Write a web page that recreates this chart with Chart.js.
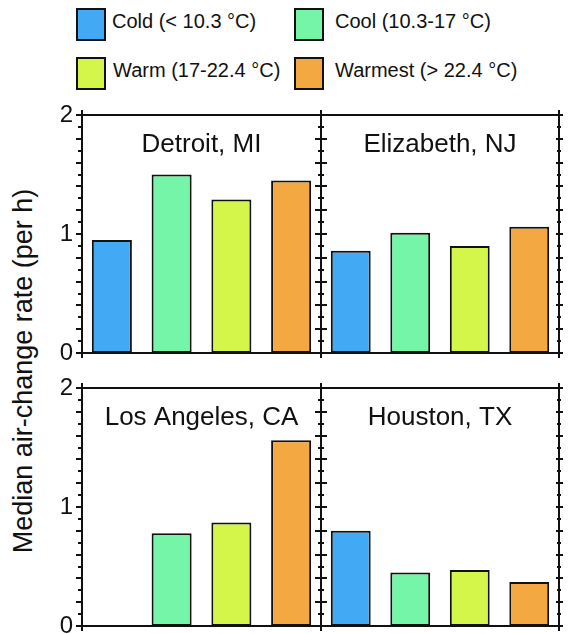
<!DOCTYPE html>
<html>
<head>
<meta charset="utf-8">
<script src="https://cdn.jsdelivr.net/npm/chart.js@4"></script>
<style>
  html, body { margin: 0; padding: 0; }
  body { width: 579px; height: 634px; overflow: hidden; background: #fff; position: relative;
         font-family: "Liberation Sans", Arial, sans-serif; color: #111; }
  .lg-box { position: absolute; width: 30px; height: 33px; box-sizing: border-box; border: 2px solid #111; }
  .lg-text { position: absolute; font-size: 20px; line-height: 24px; white-space: nowrap; }
  #ylabel { position: absolute; width: 420px; height: 30px; line-height: 30px; font-size: 27px;
            text-align: center; white-space: nowrap; transform: rotate(-90deg); }
  canvas { position: absolute; }
</style>
</head>
<body>
<div id="legend"></div>
<div id="ylabel">Median air-change rate (per h)</div>
<script>
// Temperature bins (one bar colour each)
const categories = ['Cold (< 10.3 °C)', 'Cool (10.3-17 °C)', 'Warm (17-22.4 °C)', 'Warmest (> 22.4 °C)'];
const binColors = ['#42AAF5', '#74F5A8', '#D4F54A', '#F4A842'];

// Cities, one panel each
const cities = ['Detroit, MI', 'Elizabeth, NJ', 'Los Angeles, CA', 'Houston, TX'];

// Median air-change rate (per h) by temperature bin
const detroit    = [0.95, 1.50, 1.29, 1.45];
const elizabeth  = [0.86, 1.01, 0.90, 1.06];
const losAngeles = [null, 0.78, 0.87, 1.56];
const houston    = [0.80, 0.45, 0.47, 0.37];

// y-axis range and labelled ticks
const yMin = 0, yMax = 2, yLabelStep = 1;

// ---- legend (2 x 2) ----
const legendSlots = [
  { box: [76, 8],  text: [112, 9]  },
  { box: [294, 8], text: [335, 9]  },
  { box: [76, 57], text: [113, 58] },
  { box: [294, 57], text: [335, 58] }
];
const legendEl = document.getElementById('legend');
categories.forEach((c, i) => {
  const s = legendSlots[i];
  const b = document.createElement('div');
  b.className = 'lg-box';
  b.style.left = s.box[0] + 'px'; b.style.top = s.box[1] + 'px';
  b.style.background = binColors[i];
  legendEl.appendChild(b);
  const t = document.createElement('div');
  t.className = 'lg-text';
  t.style.left = s.text[0] + 'px'; t.style.top = s.text[1] + 'px';
  t.textContent = c;
  legendEl.appendChild(t);
});

// shared y-axis title
const yl = document.getElementById('ylabel');
yl.style.left = (22.6 - 210) + 'px';
yl.style.top = (371 - 15) + 'px';

// ---- panels ----
const AREA_H = 238;
const PAD_V = 26, PAD_R = 10, AXIS_W = 52, PAD_L = 10;
const panels = [
  { name: cities[0], values: detroit,    left: 82,  top: 115, w: 239, col: 0 },
  { name: cities[1], values: elizabeth,  left: 321, top: 115, w: 238, col: 1 },
  { name: cities[2], values: losAngeles, left: 82,  top: 388, w: 239, col: 0 },
  { name: cities[3], values: houston,    left: 321, top: 388, w: 238, col: 1 }
];

// frame, tick marks and city name for each panel
const panelFrame = {
  id: 'panelFrame',
  afterDatasetsDraw(chart, args, opts) {
    const { ctx, chartArea: a } = chart;
    const y = chart.scales.y;
    ctx.save();
    ctx.strokeStyle = '#111';
    ctx.lineWidth = 2;
    ctx.lineCap = 'butt';
    ctx.beginPath();
    // top & bottom
    ctx.moveTo(a.left - 1, a.top); ctx.lineTo(a.right + 1, a.top);
    ctx.moveTo(a.left - 1, a.bottom); ctx.lineTo(a.right + 1, a.bottom);
    // sides, running a little past the box
    ctx.moveTo(a.left, a.top - 5); ctx.lineTo(a.left, a.bottom + 5);
    ctx.moveTo(a.right, a.top - 5); ctx.lineTo(a.right, a.bottom + 5);
    ctx.stroke();

    ctx.beginPath();
    for (let i = 0; i <= 20; i++) {
      const py = Math.round(y.getPixelForValue(i / 10));
      const major = i % 2 === 0;
      if (opts.col === 0) {
        // outer left axis
        ctx.moveTo(a.left - (major ? 6 : 4), py); ctx.lineTo(a.left + 1, py);
        // shared divider
        ctx.moveTo(a.right - (major ? 6 : 3), py); ctx.lineTo(a.right + (major ? 6 : 3), py);
      } else {
        // outer right axis
        ctx.moveTo(a.right - (major ? 3 : 2), py); ctx.lineTo(a.right + (major ? 4 : 2), py);
      }
    }
    ctx.stroke();

    ctx.fillStyle = '#111';
    ctx.font = '26px "Liberation Sans", Arial, sans-serif';
    ctx.textAlign = 'center';
    ctx.textBaseline = 'alphabetic';
    ctx.fillText(opts.name, (a.left + a.right) / 2, a.top + 36.5);
    ctx.restore();
  }
};

panels.forEach(p => {
  const showAxis = p.col === 0;
  const padL = showAxis ? 0 : PAD_L;
  const leftW = showAxis ? AXIS_W : PAD_L;
  const cv = document.createElement('canvas');
  const W = leftW + p.w + PAD_R;
  const H = PAD_V + AREA_H + PAD_V;
  cv.width = W; cv.height = H;
  cv.style.width = W + 'px'; cv.style.height = H + 'px';
  cv.style.left = (p.left - leftW) + 'px';
  cv.style.top = (p.top - PAD_V) + 'px';
  document.body.appendChild(cv);

  const yScale = {
    min: yMin, max: yMax,
    display: showAxis,
    grid: { display: false, drawTicks: false },
    border: { display: false },
    ticks: {
      stepSize: yLabelStep,
      padding: 9,
      color: '#111',
      font: { family: '"Liberation Sans", Arial, sans-serif', size: 24 }
    }
  };
  if (showAxis) yScale.afterFit = (scale) => { scale.width = AXIS_W; };

  new Chart(cv, {
    type: 'bar',
    data: {
      labels: categories,
      datasets: [{
        data: p.values,
        backgroundColor: binColors,
        borderColor: '#111',
        borderWidth: 2,
        borderSkipped: false,
        barPercentage: 0.67,
        categoryPercentage: 1.0
      }]
    },
    options: {
      responsive: false,
      devicePixelRatio: 1,
      animation: false,
      layout: { padding: { top: PAD_V, bottom: PAD_V, left: padL, right: PAD_R } },
      plugins: {
        legend: { display: false },
        tooltip: { enabled: false },
        panelFrame: { name: p.name, col: p.col }
      },
      scales: {
        x: { display: false, offset: true },
        y: yScale
      }
    },
    plugins: [panelFrame]
  });
});
</script>
</body>
</html>
